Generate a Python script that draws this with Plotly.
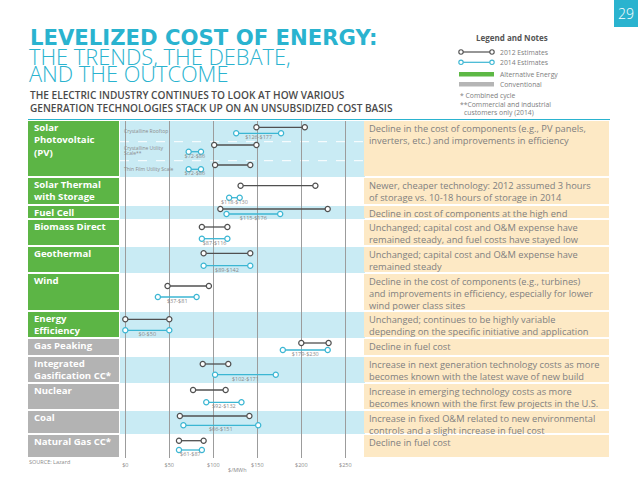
import plotly.graph_objects as go

# ---------------- data ----------------
row_names = ["Crystalline Rooftop", "Crystalline Utility Scale", "Thin Film Utility Scale",
             "Solar Thermal with Storage", "Fuel Cell", "Biomass Direct", "Geothermal", "Wind",
             "Energy Efficiency", "Gas Peaking", "Integrated Gasification CC", "Nuclear", "Coal",
             "Natural Gas CC"]
low_2012 = [149, 101, 102, 131, 108, 87, 89, 48, 0, 200, 88, 77, 62, 61]
high_2012 = [204, 149, 142, 216, 230, 116, 142, 95, 50, 231, 117, 114, 141, 89]
low_2014 = [126, 72, 72, 118, 115, 87, 89, 37, 0, 179, 102, 92, 66, 61]
high_2014 = [177, 86, 86, 130, 176, 116, 142, 81, 50, 230, 171, 132, 151, 87]

tick_vals = [0, 50, 100, 150, 200, 250]
tick_text = ["$0", "$50", "$100", "$150", "$200", "$250"]

group_labels = ["Solar<br>Photovoltaic<br>(PV)", "Solar Thermal<br>with Storage", "Fuel Cell",
                "Biomass Direct", "Geothermal", "Wind", "Energy<br>Efficiency", "Gas Peaking",
                "Integrated<br>Gasification CC*", "Nuclear", "Coal", "Natural Gas CC*"]
group_alt = [True, True, True, True, True, True, True, False, False, False, False, False]
group_notes = [
    "Decline in the cost of components (e.g., PV panels,<br>inverters, etc.) and improvements in efficiency",
    "Newer, cheaper technology: 2012 assumed 3 hours<br>of storage vs. 10-18 hours of storage in 2014",
    "Decline in cost of components at the high end",
    "Unchanged; capital cost and O&M expense have<br>remained steady, and fuel costs have stayed low",
    "Unchanged; capital cost and O&M expense have<br>remained steady",
    "Decline in the cost of components (e.g., turbines)<br>and improvements in efficiency, especially for lower<br>wind power class sites",
    "Unchanged; continues to be highly variable<br>depending on the specific initiative and application",
    "Decline in fuel cost",
    "Increase in next generation technology costs as more<br>becomes known with the latest wave of new build",
    "Increase in emerging technology costs as more<br>becomes known with the first few projects in the U.S.",
    "Increase in fixed O&M related to new environmental<br>controls and a slight increase in fuel cost",
    "Decline in fuel cost",
]

# ---------------- layout geometry (pixels) ----------------
W, H = 638, 493
group_top = [121, 178, 206, 220, 247, 274, 312, 339, 357, 384, 411, 435]
group_bot = [177, 205, 219, 246, 273, 311, 338, 356, 383, 410, 434, 458]
y_2012 = [127.3, 145, 165, 185.7, 209, 227, 253.3, 286, 319.3, 343, 364, 390, 416, 440.7]
y_2014 = [133.3, 151.7, 169.3, 197.7, 214, 238.7, 265.7, 297, 330.3, 350, 374.7, 402.3, 425.3, 450]

CH_L, CH_R = 120, 364          # chart area
PX0, PXU = 125.3, 0.88         # pixel of $0, pixels per $

TEAL = "#2AB3CF"
GREEN = "#5CB545"
GREYBOX = "#B3B3B3"
BAND = "#C9EBF4"
BEIGE = "#FDE9C5"
DARK = "#505050"
LINE14 = "#3BB6D3"
TXT = "#7d7d7d"
FONT = "Open Sans"


def X(px):
    return px / W


def Y(py):
    return 1 - py / H


shapes = []
ann = []


def rect(x0, y0, x1, y1, color, layer="below"):
    shapes.append(dict(type="rect", xref="paper", yref="paper", x0=X(x0), x1=X(x1),
                       y0=Y(y1), y1=Y(y0), fillcolor=color, line=dict(width=0), layer=layer))


def text(px, py, s, size=8, color=TXT, xanchor="left", yanchor="middle", weight=None,
         family=FONT, align="left"):
    f = dict(size=size, color=color, family=family)
    if weight is not None:
        f["weight"] = weight
    ann.append(dict(xref="paper", yref="paper", x=X(px), y=Y(py), text=s, showarrow=False,
                    xanchor=xanchor, yanchor=yanchor, font=f, align=align, borderpad=0))


def lines(px, py, s, step, **kw):
    for k, part in enumerate(s.split("<br>")):
        text(px, py + k * step, part, **kw)


# page number box
rect(614, 0, 638, 27, TEAL)
text(626, 13.5, "29", size=14, color="white", xanchor="center", weight=300)

# titles
text(29, 37, "LEVELIZED COST OF ENERGY:", size=21.2, color=TEAL, weight="bold",
     family="DejaVu Sans")
text(28, 56.5, "THE TRENDS, THE DEBATE,", size=21.8, color=TEAL, weight=300)
text(28, 73.5, "AND THE OUTCOME", size=21.8, color=TEAL, weight=300)
text(29, 95, "THE ELECTRIC INDUSTRY CONTINUES TO LOOK AT HOW VARIOUS", size=10.1,
     color="#4a4a4a", weight=600)
text(29, 107.5, "GENERATION TECHNOLOGIES STACK UP ON AN UNSUBSIDIZED COST BASIS", size=10.1,
     color="#4a4a4a", weight=600)
shapes.append(dict(type="line", xref="paper", yref="paper", x0=X(28), x1=X(610),
                   y0=Y(119.5), y1=Y(119.5), line=dict(color=TEAL, width=1)))

# legend
text(512, 38, "Legend and Notes", size=8, color="#555555", weight="bold", xanchor="center")
for ly, col in [(52, DARK), (62.3, LINE14)]:
    shapes.append(dict(type="line", xref="paper", yref="paper", x0=X(461), x1=X(492),
                       y0=Y(ly), y1=Y(ly), line=dict(color=col, width=1.2)))
    for cx in (461, 492):
        shapes.append(dict(type="circle", xref="paper", yref="paper", x0=X(cx - 2.2),
                           x1=X(cx + 2.2), y0=Y(ly + 2.2), y1=Y(ly - 2.2),
                           fillcolor="white", line=dict(color=col, width=1.1)))
text(499, 52, "2012 Estimates", size=6.8)
text(499, 62.3, "2014 Estimates", size=6.8)
rect(459, 72, 494, 76.5, "#5DB845")
rect(459, 82, 494, 86.5, "#B5B5B5")
text(499, 74, "Alternative Energy", size=6.8)
text(499, 84.3, "Conventional", size=6.8)
text(459, 95, "* Combined cycle", size=6.8)
text(459, 104, "**Commercial and industrial", size=6.8)
text(463, 112.5, "customers only (2014)", size=6.8)

# row bands, label boxes and notes
for i in range(len(group_labels)):
    t, b = group_top[i], group_bot[i]
    rect(28, t, 119, b - 1, GREEN if group_alt[i] else GREYBOX)
    if i % 2 == 0:
        rect(CH_L, t, 365, b, BAND)
    rect(364, t, 609, b - 1, BEIGE)
    lines(33, t + 6.5, "<b>" + group_labels[i].replace("<br>", "</b><br><b>") + "</b>", 12.4,
          size=9.6, color="white")
    lines(367.5, t + 7.8, group_notes[i], 12.0, size=9.3, color="#808080")

# dashed separators in the PV block
for dy in (141.7, 160.7):
    shapes.append(dict(type="line", xref="paper", yref="paper", x0=X(CH_L), x1=X(364),
                       y0=Y(dy), y1=Y(dy), line=dict(color="white", width=1, dash="dash"),
                       layer="below"))

# sub-row labels for solar PV
text(123, 131, "Crystalline Rooftop", size=5, color="#8a8a8a")
text(123, 148.3, "Crystalline Utility", size=5, color="#8a8a8a")
text(123, 152.6, "Scale**", size=5, color="#8a8a8a")
text(123, 169, "Thin Film Utility Scale", size=5, color="#8a8a8a")

# source and axis title
text(28, 462, "SOURCE: Lazard", size=5.5, color="#8a8a8a")
text(237, 469.5, "$/MWh", size=5.5, color="#8a8a8a", xanchor="center")

# ---------------- data traces ----------------
fig = go.Figure()


def segs(lo, hi, ys):
    xs, yy = [], []
    for a, b, y in zip(lo, hi, ys):
        xs += [a, b, None]
        yy += [y, y, None]
    return xs, yy


for lo, hi, ys, col, name in [(low_2012, high_2012, y_2012, DARK, "2012 Estimates"),
                              (low_2014, high_2014, y_2014, LINE14, "2014 Estimates")]:
    xs, yy = segs(lo, hi, ys)
    fig.add_trace(go.Scatter(x=xs, y=yy, mode="lines+markers", name=name,
                             line=dict(color=col, width=1.3),
                             marker=dict(symbol="circle", size=5.2, color="white",
                                         line=dict(color=col, width=1.2)),
                             hoverinfo="skip", showlegend=False))

fig.add_trace(go.Scatter(
    x=[(a + b) / 2 for a, b in zip(low_2014, high_2014)],
    y=[y + 4.7 for y in y_2014],
    mode="text",
    text=["$%d-$%d" % (a, b) for a, b in zip(low_2014, high_2014)],
    textfont=dict(size=5.5, color="#8a8a8a", family=FONT),
    hoverinfo="skip", showlegend=False))

x_lo = (CH_L - PX0) / PXU
x_hi = (364 - PX0) / PXU
fig.update_layout(
    width=W, height=H, margin=dict(l=0, r=0, t=0, b=0),
    paper_bgcolor="white", plot_bgcolor="rgba(0,0,0,0)",
    shapes=shapes, annotations=ann, showlegend=False,
    xaxis=dict(domain=[X(CH_L), X(364)], range=[x_lo, x_hi], tickvals=tick_vals,
               ticktext=tick_text, showgrid=True, gridcolor="#9c9c9c", gridwidth=1,
               zeroline=False, showline=False, ticks="", ticklabelstandoff=2,
               tickfont=dict(size=5.5, color="#8a8a8a", family=FONT), fixedrange=True),
    yaxis=dict(domain=[Y(458), Y(121)], range=[458, 121], visible=False, showgrid=False,
               fixedrange=True),
    font=dict(family=FONT),
)

fig.write_html("out.html", post_script="document.body.style.margin='0px';",
               config={"displayModeBar": False})
